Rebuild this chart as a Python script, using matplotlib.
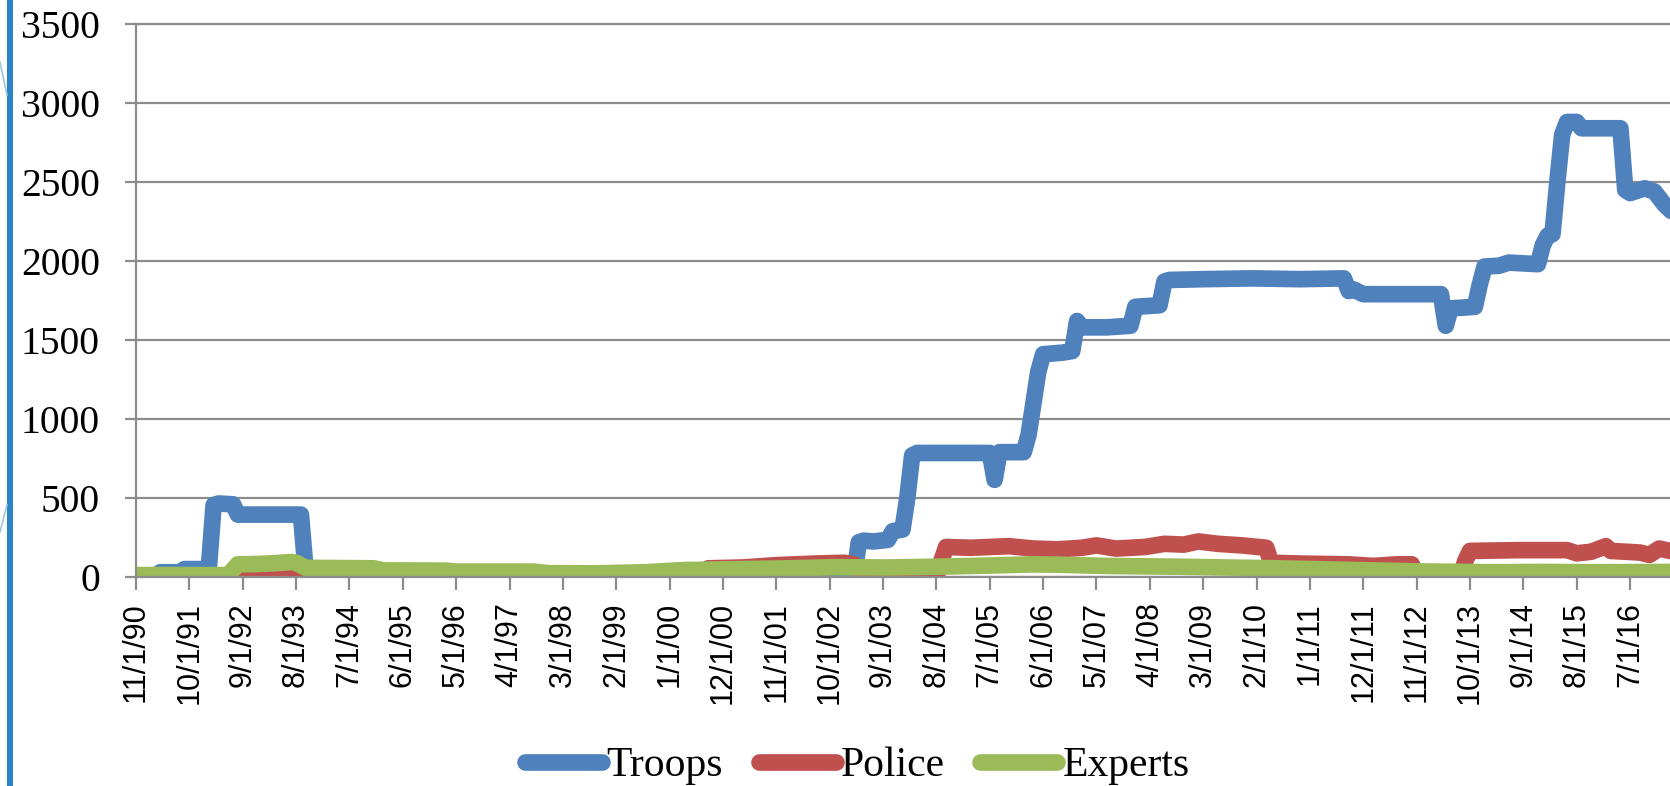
import matplotlib
matplotlib.use("Agg")
import matplotlib.pyplot as plt
from matplotlib.lines import Line2D
from matplotlib.patches import Rectangle

# ---- data (months since Nov 1990) ----
troops_month = [0, 4, 5, 9, 10, 15, 16, 17, 20, 21, 34, 35, 36, 44, 148, 149, 150, 152, 155, 156,
                158, 159, 160, 161, 176, 177, 178, 183, 184, 185, 186, 187, 191, 193, 194, 195,
                200, 205, 206, 211, 212, 213, 220, 230, 240, 249, 250, 251, 253, 269, 270, 271,
                276, 277, 278, 281, 283, 289, 290, 291, 292, 293, 294, 295, 297, 298, 306, 307,
                308, 311, 313, 315, 317]
troops_value = [5, 5, 30, 30, 50, 50, 455, 465, 460, 395, 395, 30, 10, 0, 0, 220, 230, 225, 235, 290,
                300, 500, 770, 785, 785, 615, 790, 790, 900, 1100, 1300, 1410, 1420, 1430, 1620, 1580,
                1580, 1590, 1710, 1720, 1870, 1880, 1885, 1890, 1885, 1890, 1810, 1820, 1790, 1790, 1590, 1700,
                1710, 1850, 1965, 1970, 1990, 1980, 2100, 2160, 2170, 2500, 2800, 2880, 2880, 2840, 2840, 2450,
                2430, 2460, 2440, 2360, 2300]

police_month = [0, 21, 22, 26, 30, 33, 35, 40, 50, 60, 70, 116, 118, 125, 132, 140, 146, 148, 150,
                165, 166, 167, 172, 180, 185, 190, 195, 198, 202, 208, 212, 216, 219, 223, 228, 233,
                234, 240, 250, 255, 260, 263, 264, 273, 274, 275, 285, 295, 297, 300, 303, 304, 310,
                312, 314, 317]
police_value = [0, 0, 20, 25, 30, 35, 15, 10, 5, 2, 0, 0, 55, 60, 75, 85, 90, 80, 0,
                0, 100, 190, 185, 195, 180, 175, 185, 200, 180, 190, 210, 205, 225, 210, 200, 185,
                90, 85, 80, 70, 80, 80, 0, 0, 100, 165, 170, 170, 150, 160, 195, 165, 155,
                140, 180, 160]

experts_month = [0, 19, 21, 25, 29, 32, 33, 35, 49, 51, 64, 66, 82, 85, 95, 105, 113, 125, 135, 144,
                 155, 165, 175, 185, 190, 200, 215, 235, 250, 265, 280, 290, 300, 317]
experts_value = [12, 12, 80, 82, 88, 95, 90, 58, 55, 42, 40, 34, 34, 24, 23, 30, 44, 50, 55, 62,
                 60, 65, 72, 80, 78, 70, 65, 55, 45, 35, 30, 32, 30, 32]

tick_labels = ["11/1/90", "10/1/91", "9/1/92", "8/1/93", "7/1/94", "6/1/95", "5/1/96", "4/1/97",
               "3/1/98", "2/1/99", "1/1/00", "12/1/00", "11/1/01", "10/1/02", "9/1/03", "8/1/04",
               "7/1/05", "6/1/06", "5/1/07", "4/1/08", "3/1/09", "2/1/10", "1/1/11", "12/1/11",
               "11/1/12", "10/1/13", "9/1/14", "8/1/15", "7/1/16"]
y_ticks = [0, 500, 1000, 1500, 2000, 2500, 3000, 3500]

series_names = ["Troops", "Police", "Experts"]
series_colors = ["#4F81BD", "#C0504D", "#9BBB59"]

# ---- figure ----
W, H = 1670, 786
fig = plt.figure(figsize=(W / 100, H / 100), dpi=100)
fig.patch.set_facecolor("white")

px_per_month = 4.851
x_left, y_zero, y_top = 136, 577, 24
xmax = 320
ax = fig.add_axes([x_left / W, (H - y_zero) / H, xmax * px_per_month / W, (y_zero - y_top) / H])

grid_col = "#8C8C8C"
lw = 12
for mon, val, name, col in zip([troops_month, police_month, experts_month],
                               [troops_value, police_value, experts_value],
                               series_names, series_colors):
    ax.plot(mon, val, color=col, lw=lw, label=name, solid_capstyle="round",
            solid_joinstyle="round")

ax.set_xlim(0, xmax)
ax.set_ylim(0, 3500)
ax.set_yticks(y_ticks)
ax.set_yticklabels([str(v) for v in y_ticks], fontfamily="Liberation Serif", fontsize=28.5)
ax.set_xticks([11 * i for i in range(len(tick_labels))])
ax.set_xticklabels(tick_labels, rotation=90, fontfamily="Liberation Sans", fontsize=22)

ax.yaxis.grid(True, color=grid_col, lw=1.6)
ax.set_axisbelow(True)
ax.spines["right"].set_visible(False)
for s in ["left", "bottom", "top"]:
    ax.spines[s].set_color(grid_col)
    ax.spines[s].set_linewidth(1.6)
ax.tick_params(axis="y", length=8, width=1.6, color=grid_col, pad=18, labelcolor="black")
ax.tick_params(axis="x", length=9, width=1.6, color=grid_col, pad=9, labelcolor="black")

leg = fig.legend(loc="center", bbox_to_anchor=(857 / W, 1 - 766 / H), ncol=3, frameon=False,
                 prop={"family": "Liberation Serif", "size": 30}, handlelength=1.85,
                 handletextpad=0.12, columnspacing=0.85, borderaxespad=0)
for ln in leg.get_lines():
    ln.set_linewidth(12)
    ln.set_solid_capstyle("round")

# slide decorations at the left edge
fig.add_artist(Rectangle((7 / W, 0), 6 / W, 1, transform=fig.transFigure,
                         color="#2A83C6", lw=0))
fig.add_artist(Line2D([0, 7 / W], [1 - 62 / H, 1 - 95 / H], transform=fig.transFigure,
                      color="#9CC8E2", lw=1.2))
fig.add_artist(Line2D([0, 7 / W], [1 - 532 / H, 1 - 505 / H], transform=fig.transFigure,
                      color="#9CC8E2", lw=1.2))

fig.savefig("out.png", dpi=100)
